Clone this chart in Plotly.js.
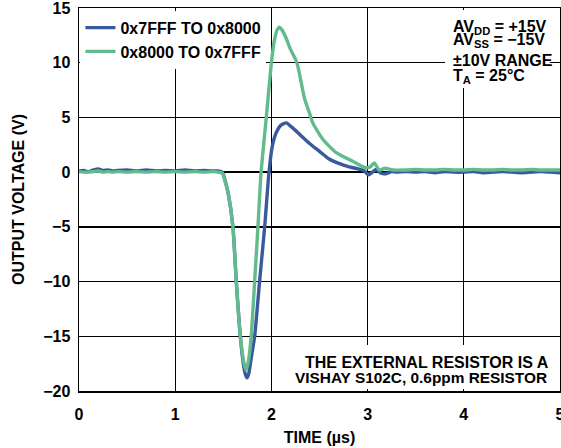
<!DOCTYPE html>
<html>
<head>
<meta charset="utf-8">
<script src="https://cdn.plot.ly/plotly-3.0.1.min.js"></script>
<style>html,body{margin:0;padding:0;background:#fff;}#chart{width:561px;height:448px;}</style>
</head>
<body>
<div id="chart"></div>
<script>
// Series 1: 0x7FFF TO 0x8000 (blue)
var timeBlue = [0,0.05,0.1,0.15,0.2,0.25,0.3,0.35,0.4,0.5,0.6,0.7,0.8,0.9,1.0,1.1,1.2,1.3,1.4,1.45,1.49,1.52,1.55,1.6,1.635,1.677,1.71,1.73,1.746,1.765,1.79,1.826,1.877,1.93,1.975,2.01,2.05,2.1,2.155,2.2,2.3,2.4,2.5,2.6,2.7,2.8,2.9,2.96,3.01,3.05,3.09,3.14,3.19,3.25,3.3,3.4,3.5,3.6,3.7,3.8,3.9,4.0,4.1,4.2,4.3,4.4,4.5,4.6,4.7,4.8,4.9,5.0];
var voltBlue = [0.1,0.15,0.05,0.2,0.3,0.15,0.2,0.1,0.15,0.2,0.1,0.2,0.1,0.15,0.1,0.2,0.1,0.15,0.1,0.1,0.0,-0.8,-1.9,-5.0,-10.0,-15.0,-17.6,-18.5,-18.8,-18.4,-17.0,-15.0,-10.0,-5.0,0.0,2.4,3.6,4.3,4.5,4.2,3.4,2.6,1.9,1.2,0.8,0.5,0.3,0.15,-0.25,0.0,0.25,-0.1,-0.15,0.05,0.0,0.05,0.0,0.05,-0.05,0.05,0.0,0.0,0.05,-0.05,0.0,0.05,0.0,-0.05,0.0,0.05,0.0,-0.05];

// Series 2: 0x8000 TO 0x7FFF (green)
var timeGreen = [0,0.05,0.1,0.15,0.2,0.25,0.3,0.35,0.4,0.5,0.6,0.7,0.8,0.9,1.0,1.1,1.2,1.3,1.4,1.45,1.49,1.52,1.55,1.6,1.635,1.677,1.71,1.735,1.76,1.79,1.826,1.86,1.893,1.947,2.0,2.03,2.06,2.08,2.11,2.15,2.2,2.265,2.345,2.396,2.43,2.535,2.67,2.845,2.98,3.03,3.07,3.12,3.18,3.26,3.4,3.5,3.6,3.7,3.8,3.9,4.0,4.1,4.2,4.3,4.4,4.5,4.6,4.7,4.8,4.9,5.0];
var voltGreen = [0.05,0.0,0.0,0.05,0.1,0.0,0.05,0.0,0.05,0.0,0.05,0.0,0.05,0.0,0.05,0.0,0.05,0.0,0.05,0.0,-0.1,-0.9,-1.9,-5.0,-10.0,-15.0,-17.2,-18.1,-17.3,-15.0,-10.0,-5.0,0.0,5.0,10.0,12.0,13.0,13.25,13.0,12.3,11.2,10.0,6.7,5.4,4.5,3.0,1.8,1.0,0.4,0.5,0.85,0.2,0.35,0.2,0.2,0.25,0.2,0.2,0.25,0.2,0.2,0.25,0.2,0.2,0.25,0.2,0.2,0.25,0.2,0.2,0.2];

var seriesNames = ['0x7FFF TO 0x8000', '0x8000 TO 0x7FFF'];
var seriesColors = ['#3a5a9e', '#62bb8d'];

var xTickVals = [0,1,2,3,4,5];
var yTickVals = [-20,-15,-10,-5,0,5,10,15];

var conditionLines = ['AV<sub>DD</sub> = +15V', 'AV<sub>SS</sub> = −15V', '±10V RANGE', 'T<sub>A</sub> = 25°C'];
var noteLines = ['THE EXTERNAL RESISTOR IS A', 'VISHAY S102C, 0.6ppm RESISTOR'];

var F = {family: 'Liberation Sans, Arial, sans-serif', size: 16, color: '#000', weight: 'bold'};
var F2 = {family: 'Liberation Sans, Arial, sans-serif', size: 15.4, color: '#000', weight: 'bold'};

var traces = [
  {x: timeBlue, y: voltBlue, name: seriesNames[0], type: 'scatter', mode: 'lines',
   line: {color: seriesColors[0], width: 3.4, shape: 'spline', smoothing: 0.6}},
  {x: timeGreen, y: voltGreen, name: seriesNames[1], type: 'scatter', mode: 'lines',
   line: {color: seriesColors[1], width: 3.4, shape: 'spline', smoothing: 0.6}}
];

// paper positions (fractions of plot area)
var condY = [0.949, 0.914, 0.863, 0.821];
var noteX = [0.7235, 0.711];
var noteY = [0.074, 0.034];

var annotations = [];
conditionLines.forEach(function (t, i) {
  annotations.push({xref: 'paper', yref: 'paper', x: 0.773, y: condY[i], xanchor: 'left', yanchor: 'middle',
    align: 'left', showarrow: false, font: F, text: t});
});
noteLines.forEach(function (t, i) {
  annotations.push({xref: 'paper', yref: 'paper', x: noteX[i], y: noteY[i], xanchor: 'center', yanchor: 'middle',
    align: 'center', showarrow: false, font: i === 0 ? F : F2, text: t});
});

var layout = {
  width: 561, height: 448,
  margin: {l: 79, r: 1, t: 8, b: 57},
  paper_bgcolor: '#fff', plot_bgcolor: '#fff',
  font: F,
  showlegend: true,
  legend: {x: 0.003, y: 0.993, xanchor: 'left', yanchor: 'top', bgcolor: '#fff',
           font: F, tracegroupgap: 0, itemwidth: 30},
  xaxis: {range: [0, 5], tickvals: xTickVals, ticktext: xTickVals.map(String),
          showgrid: true, gridcolor: '#000', gridwidth: 1.3, zeroline: false,
          showline: true, linecolor: '#000', linewidth: 1.5, mirror: true,
          ticks: 'outside', ticklen: 8, tickcolor: 'rgba(0,0,0,0)', tickfont: F,
          ticklabeloverflow: 'allow',
          title: {text: 'TIME (µs)', font: F, standoff: 10}},
  yaxis: {range: [-20, 15], tickvals: yTickVals,
          showgrid: true, gridcolor: '#000', gridwidth: 1.3, zeroline: false,
          showline: true, linecolor: '#000', linewidth: 1.5, mirror: true,
          ticks: 'outside', ticklen: 4, tickcolor: 'rgba(0,0,0,0)', tickfont: F,
          ticklabeloverflow: 'allow',
          title: {text: 'OUTPUT VOLTAGE (V)', font: F, standoff: 14}},
  shapes: [
    {type: 'rect', xref: 'paper', yref: 'paper', x0: 0.761, x1: 0.979, y0: 0.791, y1: 0.995,
     fillcolor: '#fff', line: {width: 0}, layer: 'above'},
    {type: 'rect', xref: 'paper', yref: 'paper', x0: 0.466, x1: 0.983, y0: 0.005, y1: 0.12,
     fillcolor: '#fff', line: {width: 0}, layer: 'above'}
  ],
  annotations: annotations
};

Plotly.newPlot('chart', traces, layout, {displayModeBar: false, staticPlot: true});
</script>
</body>
</html>
